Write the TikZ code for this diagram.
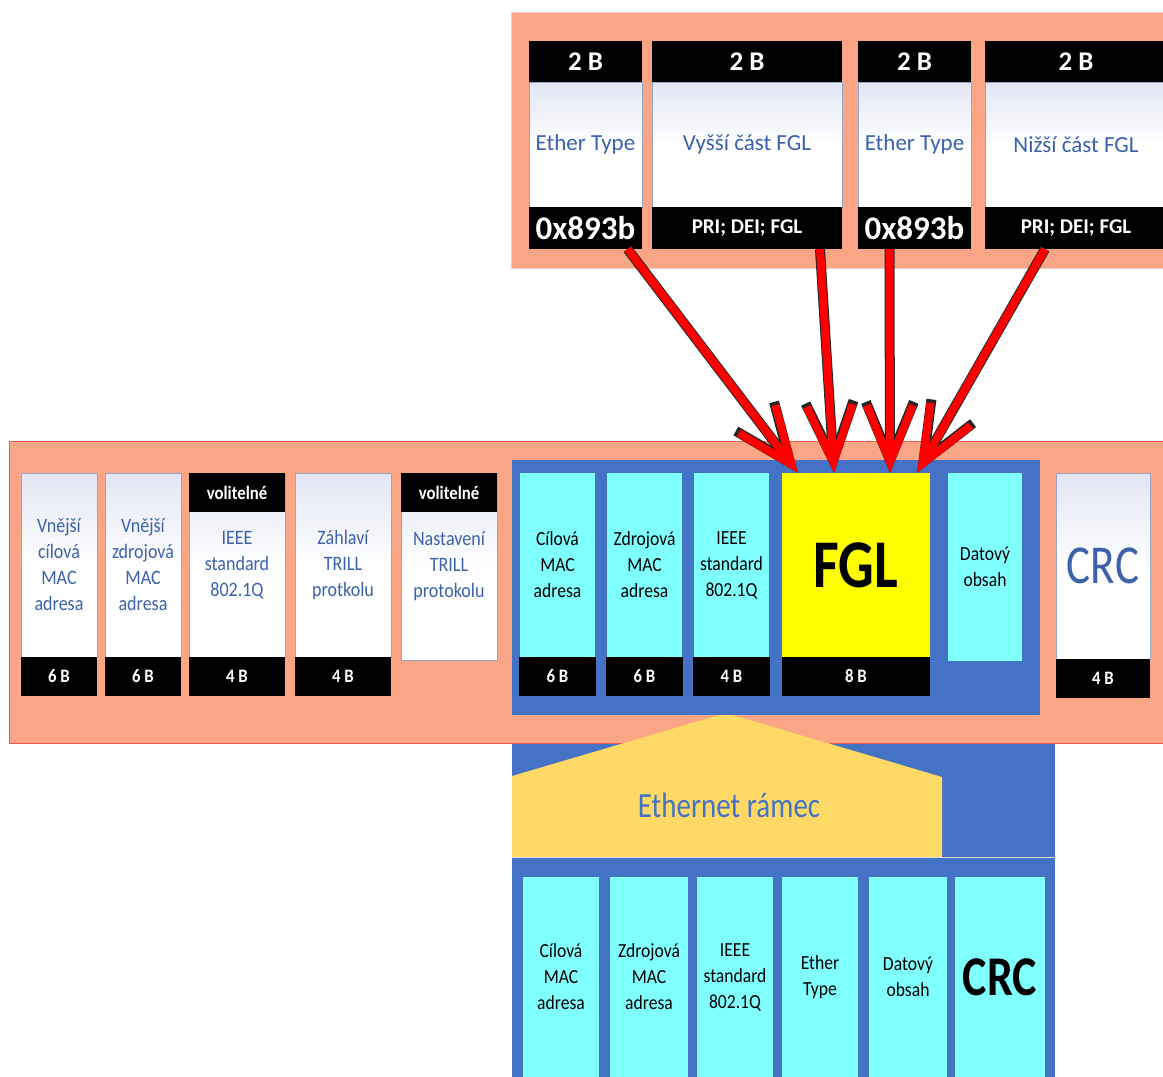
\documentclass[tikz,border=0pt]{standalone}
\usepackage{fontspec}
\setmainfont{Carlito}
\newfontfamily\narrowfont[FakeStretch=0.88]{Carlito}
\usetikzlibrary{arrows.meta, positioning, calc}

\definecolor{salmon}{RGB}{250,166,134}
\definecolor{toprim}{RGB}{236,206,196}
\definecolor{midrim}{RGB}{238,92,72}
\definecolor{frameblue}{RGB}{68,114,196}
\definecolor{txtblue}{RGB}{60,98,172}
\definecolor{cyanbox}{RGB}{128,255,255}
\definecolor{fglyellow}{RGB}{255,255,0}
\definecolor{roofyellow}{RGB}{255,217,102}
\definecolor{lav}{RGB}{226,229,244}
\definecolor{cellrim}{RGB}{150,166,206}

\begin{document}
\begin{tikzpicture}[x=1pt, y=-1pt,
  blackbar/.style={fill=black, text=white, inner sep=0pt, outer sep=0pt, anchor=north west, font=\narrowfont\fontsize{19}{22}\selectfont\bfseries},
  wcell/.style={draw=cellrim, line width=0.6pt, top color=lav, bottom color=white, middle color=white, text=txtblue, align=center, inner sep=0pt, outer sep=0pt, anchor=north west, font=\narrowfont\fontsize{20.5}{26}\selectfont},
  ccell/.style={fill=cyanbox, align=center, inner sep=0pt, outer sep=0pt, anchor=north west, font=\narrowfont\fontsize{20}{26}\selectfont},
  tall/.style={yscale=1.22, inner sep=0pt},
  redarr/.style={draw=red, line width=8pt, -{Straight Barb[length=57pt, width=46pt]}, preaction={draw=black!85, line width=10pt, -{Straight Barb[length=58pt, width=48pt]}}}
]
  \useasboundingbox (0,0) rectangle (1163,1077);

  % === Ethernet rámec (dole) ===
  \fill[frameblue] (512,743) rectangle (1055,1080);

  % === TRILL rámec (uprostřed) ===
  \draw[draw=midrim, fill=salmon] (9,441) rectangle (1175,743);

  % střecha "Ethernet rámec"
  \fill[roofyellow] (512,857) -- (512,776) -- (726,713) -- (942,777) -- (942,857) -- cycle;
  \draw[white!75!gray, line width=0.8pt] (512,857) -- (1055,857);
  \node[tall, text=frameblue, font=\fontsize{29}{34}\selectfont] (eth) at (729,805) {Ethernet rámec};

  \node[wcell, minimum width=76pt, minimum height=184pt] (vcil) at (21,473) {Vnější\\cílová\\MAC\\adresa};
  \node[blackbar, minimum width=76pt, minimum height=39pt] (vcilf) at (21,657) {6 B};

  \node[wcell, minimum width=76pt, minimum height=184pt] (vzdr) at (105,473) {Vnější\\zdrojová\\MAC\\adresa};
  \node[blackbar, minimum width=76pt, minimum height=39pt] (vzdrf) at (105,657) {6 B};

  \node[wcell, minimum width=96pt, minimum height=184pt] (vieee) at (189,473) {IEEE\\standard\\802.1Q};
  \node[blackbar, minimum width=96pt, minimum height=39pt] (vieeeh) at (189,473) {volitelné};
  \node[blackbar, minimum width=96pt, minimum height=39pt] (vieeef) at (189,657) {4 B};

  \node[wcell, minimum width=96pt, minimum height=184pt] (zahl) at (295,473) {Záhlaví\\TRILL\\protkolu};
  \node[blackbar, minimum width=96pt, minimum height=39pt] (zahlf) at (295,657) {4 B};

  \node[wcell, minimum width=96pt, minimum height=187pt] (nast) at (401,473) {Nastavení\\TRILL\\protokolu};
  \node[blackbar, minimum width=96pt, minimum height=39pt] (nasth) at (401,473) {volitelné};

  % vnořený Ethernet rámec
  \fill[frameblue] (512,460) rectangle (1040,715);

  \node[ccell, minimum width=75pt, minimum height=184pt] (cil) at (520,473) {Cílová\\MAC\\adresa};
  \node[blackbar, minimum width=77pt, minimum height=39pt] (cilf) at (519,657) {6 B};

  \node[ccell, minimum width=75pt, minimum height=184pt] (zdr) at (607,473) {Zdrojová\\MAC\\adresa};
  \node[blackbar, minimum width=77pt, minimum height=39pt] (zdrf) at (606,657) {6 B};

  \node[ccell, minimum width=75pt, minimum height=184pt] (ieee) at (694,473) {IEEE\\standard\\802.1Q};
  \node[blackbar, minimum width=77pt, minimum height=39pt] (ieeef) at (693,657) {4 B};

  \node[ccell, fill=fglyellow, minimum width=148pt, minimum height=184pt] (fgl) at (782,473) {};
  \node[tall, font=\fontsize{56}{60}\selectfont\bfseries] (fglt) at (fgl.center) {FGL};
  \node[blackbar, minimum width=148pt, minimum height=39pt] (fglf) at (782,657) {8 B};

  \node[ccell, minimum width=74pt, minimum height=188pt] (dat) at (948,473) {Datový\\obsah};

  \node[wcell, minimum width=94pt, minimum height=186pt] (crcm) at (1056,473) {};
  \node[tall, text=txtblue, font=\fontsize{45}{50}\selectfont] (crcmt) at (crcm.center) {CRC};
  \node[blackbar, minimum width=94pt, minimum height=39pt] (crcmf) at (1056,659) {4 B};

  % === Ethernet rámec (pole) ===
  \node[ccell, minimum width=76pt, minimum height=200pt] (bcil) at (523,877) {Cílová\\MAC\\adresa};
  \node[ccell, minimum width=78pt, minimum height=200pt] (bzdr) at (610,877) {Zdrojová\\MAC\\adresa};
  \node[ccell, minimum width=76pt, minimum height=200pt] (bieee) at (697,877) {IEEE\\standard\\802.1Q};
  \node[ccell, minimum width=76pt, minimum height=200pt] (btype) at (782,877) {Ether\\Type};
  \node[ccell, minimum width=78pt, minimum height=200pt] (bdat) at (869,877) {Datový\\obsah};
  \node[ccell, minimum width=90pt, minimum height=200pt] (bcrc) at (955,877) {};
  \node[tall, font=\fontsize{46}{50}\selectfont\bfseries] (bcrct) at (bcrc.center) {CRC};

  % === FGL pole (nahoře) ===
  \draw[draw=toprim, fill=salmon] (511,12) rectangle (1175,268);

  \node[wcell, minimum width=113pt, minimum height=125pt, font=\fontsize{23}{28}\selectfont] (etA) at (529,82) {Ether Type};
  \node[blackbar, minimum width=113pt, minimum height=41pt, font=\fontsize{27}{30}\selectfont\bfseries] (etAh) at (529,41) {2 B};
  \node[blackbar, minimum width=113pt, minimum height=42pt, font=\fontsize{33}{36}\selectfont\bfseries] (etAf) at (529,207) {0x893b};

  \node[wcell, minimum width=190pt, minimum height=125pt, font=\fontsize{23}{28}\selectfont] (vys) at (652,82) {Vyšší část FGL};
  \node[blackbar, minimum width=190pt, minimum height=41pt, font=\fontsize{27}{30}\selectfont\bfseries] (vysh) at (652,41) {2 B};
  \node[blackbar, minimum width=190pt, minimum height=42pt, font=\fontsize{21}{24}\selectfont\bfseries] (vysf) at (652,207) {PRI; DEI; FGL};

  \node[wcell, minimum width=113pt, minimum height=125pt, font=\fontsize{23}{28}\selectfont] (etB) at (858,82) {Ether Type};
  \node[blackbar, minimum width=113pt, minimum height=41pt, font=\fontsize{27}{30}\selectfont\bfseries] (etBh) at (858,41) {2 B};
  \node[blackbar, minimum width=113pt, minimum height=42pt, font=\fontsize{33}{36}\selectfont\bfseries] (etBf) at (858,207) {0x893b};

  \node[wcell, minimum width=182pt, minimum height=125pt, font=\fontsize{23}{28}\selectfont] (niz) at (985,82) {Nižší část FGL};
  \node[blackbar, minimum width=182pt, minimum height=41pt, font=\fontsize{27}{30}\selectfont\bfseries] (nizh) at (985,41) {2 B};
  \node[blackbar, minimum width=182pt, minimum height=42pt, font=\fontsize{21}{24}\selectfont\bfseries] (nizf) at (985,207) {PRI; DEI; FGL};

  % šipky do FGL
  \coordinate (s1) at ([xshift=42pt]etAf.south);
  \coordinate (s2) at ([xshift=73pt]vysf.south);
  \coordinate (s3) at ([xshift=-25pt]etBf.south);
  \coordinate (s4) at ([xshift=-31pt]nizf.south);
  \coordinate (e1) at ([xshift=-58pt]fgl.north);
  \coordinate (e2) at ([xshift=-22pt]fgl.north);
  \coordinate (e3) at ([xshift=34pt]fgl.north);
  \coordinate (e4) at ([xshift=61pt]fgl.north);
  \draw[redarr] (s1) -- (e1);
  \draw[redarr] (s2) -- (e2);
  \draw[redarr] (s3) -- (e3);
  \draw[redarr] (s4) -- (e4);
\end{tikzpicture}
\end{document}
